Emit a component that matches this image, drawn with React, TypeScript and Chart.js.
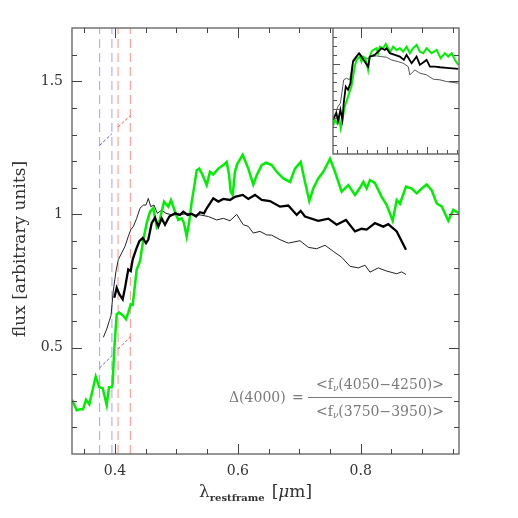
import React, { useEffect, useRef } from "react";
import { Chart, registerables } from "chart.js";
Chart.register(...registerables);

// ---------- axis ranges & ticks ----------
const X_MIN = 0.33, X_MAX = 0.96, Y_MIN = 0.1, Y_MAX = 1.7;
const xMajorTicks = [0.4, 0.6, 0.8];
const xTickLabels = ["0.4", "0.6", "0.8"];
const xMinorTicks = [0.35, 0.45, 0.5, 0.55, 0.65, 0.7, 0.75, 0.85, 0.9, 0.95];
const yMajorTicks = [0.5, 1, 1.5];
const yTickLabels = ["0.5", "1", "1.5"];
const yMinorTicks = [0.2, 0.3, 0.4, 0.6, 0.7, 0.8, 0.9, 1.1, 1.2, 1.3, 1.4, 1.6];

// ---------- main spectra ----------
const greenX = [0.330, 0.3377, 0.343, 0.348, 0.3528, 0.3582, 0.3686, 0.3744, 0.380, 0.3865, 0.3902, 0.3946, 0.396, 0.399, 0.4028, 0.407, 0.4135, 0.4179, 0.4216, 0.4256, 0.4288, 0.4353, 0.4407, 0.4461, 0.4516, 0.457, 0.4623, 0.4679, 0.4721, 0.476, 0.4798, 0.4868, 0.4912, 0.4977, 0.503, 0.5086, 0.5123, 0.5167, 0.5209, 0.5249, 0.5302, 0.533, 0.5372, 0.5428, 0.5493, 0.5546, 0.56, 0.5682, 0.5763, 0.5818, 0.5856, 0.5883, 0.5916, 0.5953, 0.5991, 0.6079, 0.617, 0.6251, 0.6307, 0.6388, 0.6458, 0.6551, 0.6632, 0.674, 0.6849, 0.693, 0.7023, 0.7093, 0.7163, 0.7228, 0.7309, 0.7391, 0.75, 0.7581, 0.769, 0.7798, 0.7907, 0.7988, 0.8042, 0.8097, 0.8151, 0.8232, 0.8341, 0.8423, 0.8521, 0.8586, 0.8639, 0.8737, 0.883, 0.8911, 0.8993, 0.9074, 0.9156, 0.9237, 0.9318, 0.9426, 0.9507, 0.9605];
const greenY = [0.304, 0.264, 0.268, 0.268, 0.304, 0.287, 0.391, 0.351, 0.347, 0.283, 0.351, 0.351, 0.36, 0.50, 0.625, 0.631, 0.619, 0.606, 0.631, 0.662, 0.66, 0.793, 0.824, 0.905, 0.967, 1.010, 1.023, 0.954, 0.973, 1.010, 1.048, 1.029, 1.054, 1.010, 0.979, 0.985, 0.967, 0.917, 0.973, 1.048, 1.122, 1.166, 1.172, 1.147, 1.110, 1.160, 1.150, 1.172, 1.185, 1.197, 1.15, 1.085, 1.073, 1.16, 1.19, 1.224, 1.172, 1.112, 1.147, 1.185, 1.194, 1.185, 1.160, 1.135, 1.122, 1.172, 1.197, 1.122, 1.050, 1.097, 1.135, 1.160, 1.209, 1.160, 1.085, 1.110, 1.073, 1.10, 1.122, 1.097, 1.129, 1.117, 1.066, 1.035, 0.976, 1.054, 1.04, 1.104, 1.097, 1.079, 1.097, 1.112, 1.09, 1.041, 1.03, 0.976, 1.017, 1.004];

const thickX = [0.3989, 0.4028, 0.407, 0.4125, 0.4163, 0.4216, 0.4256, 0.4288, 0.4342, 0.4396, 0.4451, 0.4505, 0.4542, 0.4597, 0.4651, 0.4705, 0.476, 0.4814, 0.4884, 0.4977, 0.5058, 0.5112, 0.5183, 0.5249, 0.5319, 0.5384, 0.5449, 0.5493, 0.56, 0.5682, 0.5763, 0.5872, 0.5953, 0.6079, 0.617, 0.6279, 0.6388, 0.6523, 0.6686, 0.6821, 0.6958, 0.7023, 0.7093, 0.7309, 0.7473, 0.7609, 0.776, 0.7907, 0.8016, 0.8097, 0.8232, 0.8367, 0.8449, 0.8586, 0.8667, 0.8737];
const thickY = [0.687, 0.724, 0.70, 0.681, 0.724, 0.793, 0.787, 0.830, 0.868, 0.899, 0.911, 0.892, 0.905, 0.967, 0.988, 0.954, 0.985, 0.961, 0.992, 1.004, 0.998, 1.010, 0.998, 1.002, 0.992, 1.008, 1.004, 1.023, 1.060, 1.048, 1.058, 1.054, 1.066, 1.073, 1.058, 1.073, 1.054, 1.050, 1.029, 1.033, 0.998, 1.013, 0.992, 0.976, 0.984, 0.961, 0.979, 0.936, 0.946, 0.943, 0.967, 0.954, 0.963, 0.936, 0.899, 0.867];

const thinX = [0.381, 0.3865, 0.3907, 0.3935, 0.3972, 0.4016, 0.4054, 0.4109, 0.4163, 0.4216, 0.4256, 0.4298, 0.4353, 0.4407, 0.4461, 0.4505, 0.4542, 0.4581, 0.4635, 0.4689, 0.476, 0.483, 0.4923, 0.5058, 0.5193, 0.5275, 0.5384, 0.5519, 0.5655, 0.5763, 0.5872, 0.5981, 0.6089, 0.617, 0.6251, 0.636, 0.6469, 0.6551, 0.6686, 0.6821, 0.7012, 0.7147, 0.7283, 0.7419, 0.7554, 0.769, 0.7825, 0.7961, 0.807, 0.8151, 0.8286, 0.8423, 0.8586, 0.8667, 0.8737];
const thinY = [0.538, 0.569, 0.600, 0.62, 0.712, 0.787, 0.830, 0.855, 0.880, 0.917, 0.942, 0.954, 0.985, 1.023, 1.035, 1.035, 1.060, 1.029, 1.035, 1.004, 1.016, 1.004, 0.998, 0.998, 1.004, 0.998, 0.998, 0.992, 0.979, 0.985, 0.976, 1.000, 0.961, 0.955, 0.930, 0.936, 0.923, 0.922, 0.905, 0.892, 0.901, 0.876, 0.871, 0.884, 0.861, 0.839, 0.805, 0.799, 0.809, 0.783, 0.799, 0.787, 0.777, 0.784, 0.774];

// ---------- D4000 bands and continuum fits ----------
const blueBand = [0.375, 0.395];
const redBand = [0.405, 0.425];
const blueFitUpperY = [1.259, 1.303];
const redFitUpperY = [1.328, 1.371];
const blueFitLowerY = [0.4235, 0.469];
const redFitLowerY = [0.494, 0.540];

// ---------- inset ----------
const INSET_X_MIN = 0.33, INSET_X_MAX = 0.96, INSET_Y_MIN = 0, INSET_Y_MAX = 1.4;
const insetXMajor = [0.4, 0.6, 0.8];
const insetXMinor = [0.35, 0.45, 0.5, 0.55, 0.65, 0.7, 0.75, 0.85, 0.9, 0.95];
const insetYMajor = [0.5, 1.0];
const insetYMinor = [0.1, 0.2, 0.3, 0.4, 0.6, 0.7, 0.8, 0.9, 1.1, 1.2, 1.3];

const insetGreenX = [0.330, 0.3385, 0.350, 0.360, 0.3686, 0.380, 0.3886, 0.400, 0.4137, 0.4222, 0.4302, 0.4388, 0.4473, 0.4553, 0.4638, 0.4723, 0.4804, 0.4924, 0.5054, 0.5139, 0.5225, 0.5305, 0.5475, 0.5555, 0.5641, 0.5806, 0.5941, 0.6057, 0.6177, 0.6307, 0.6478, 0.6643, 0.6808, 0.6979, 0.7144, 0.731, 0.748, 0.7645, 0.7811, 0.7981, 0.8232, 0.8482, 0.8683, 0.8898, 0.9064, 0.9234, 0.9399, 0.9565];
const insetGreenY = [0.306, 0.380, 0.344, 0.417, 0.288, 0.417, 0.528, 0.602, 0.694, 0.749, 0.860, 0.971, 1.045, 1.064, 1.082, 1.026, 1.082, 1.064, 0.934, 1.082, 1.137, 1.156, 1.175, 1.120, 1.193, 1.175, 1.223, 1.175, 1.137, 1.193, 1.156, 1.175, 1.137, 1.193, 1.120, 1.175, 1.212, 1.137, 1.120, 1.175, 1.120, 1.156, 1.064, 1.120, 1.082, 1.120, 1.045, 0.990];
const insetThickX = [0.330, 0.347, 0.355, 0.3671, 0.3771, 0.3836, 0.3937, 0.4052, 0.4172, 0.4302, 0.4473, 0.4603, 0.4723, 0.4889, 0.5054, 0.5139, 0.539, 0.5555, 0.5726, 0.5891, 0.5976, 0.6142, 0.6392, 0.6643, 0.6843, 0.6979, 0.7229, 0.748, 0.7645, 0.7981, 0.8147, 0.8397, 0.8648, 0.8984, 0.9565];
const insetThickY = [0.380, 0.454, 0.361, 0.491, 0.380, 0.565, 0.749, 0.713, 0.787, 1.026, 1.082, 1.120, 1.082, 1.026, 0.971, 1.082, 1.101, 1.137, 1.175, 1.156, 1.175, 1.120, 1.101, 1.082, 1.045, 1.101, 1.009, 1.082, 0.990, 1.045, 0.971, 0.971, 0.964, 0.957, 0.946];
const insetThinX = [0.330, 0.355, 0.3671, 0.3836, 0.3972, 0.4137, 0.4302, 0.4473, 0.4638, 0.4804, 0.5054, 0.5225, 0.5475, 0.5726, 0.5976, 0.6227, 0.6558, 0.6808, 0.7059, 0.7144, 0.7395, 0.7645, 0.7981, 0.8312, 0.8648, 0.8984, 0.9565];
const insetThinY = [0.380, 0.528, 0.565, 0.824, 0.842, 0.824, 1.045, 1.090, 1.120, 1.064, 1.064, 1.082, 1.090, 1.082, 1.075, 1.045, 1.026, 1.009, 0.971, 0.879, 0.934, 0.898, 0.879, 0.831, 0.824, 0.805, 0.787];

// ---------- text ----------
const yTitle = "flux [arbitrary units]";
const xTitleMain = "λ";
const xTitleSub = "restframe";
const xTitleUnit = "μ";
const d4000Label = "Δ(4000)";
const numeratorRange = "(4050−4250)>";
const denominatorRange = "(3750−3950)>";

const SERIF = '"DejaVu Serif", serif';

const pts = (xs: number[], ys: number[]) => xs.map((x, i) => ({ x, y: ys[i] }));

function lineDs(data: any[], color: string, width: number, dash: number[] = []) {
  return {
    data,
    borderColor: color,
    backgroundColor: color,
    borderWidth: width,
    borderDash: dash,
    pointRadius: 0,
    tension: 0,
    fill: false,
  };
}

const labelOf = (ticks: number[], labels: string[]) => (v: any) => {
  const i = ticks.findIndex((t) => Math.abs(t - Number(v)) < 1e-9);
  return i >= 0 ? labels[i] : "";
};

const framePlugin = {
  id: "frame",
  afterDraw(chart: any) {
    const ctx = chart.ctx as CanvasRenderingContext2D;
    const { left, right, top, bottom } = chart.chartArea;
    const xs = chart.scales.x;
    const ys = chart.scales.y;
    ctx.save();
    ctx.strokeStyle = "#6a6a6a";
    ctx.lineWidth = 1.4;
    ctx.strokeRect(left, top, right - left, bottom - top);
    ctx.strokeStyle = "#444";
    ctx.lineWidth = 1;
    const vt = (vals: number[], len: number) => {
      vals.forEach((v) => {
        const p = Math.round(xs.getPixelForValue(v)) + 0.5;
        ctx.beginPath();
        ctx.moveTo(p, bottom);
        ctx.lineTo(p, bottom - len);
        ctx.moveTo(p, top);
        ctx.lineTo(p, top + len);
        ctx.stroke();
      });
    };
    const ht = (vals: number[], len: number) => {
      vals.forEach((v) => {
        const p = Math.round(ys.getPixelForValue(v)) + 0.5;
        ctx.beginPath();
        ctx.moveTo(left, p);
        ctx.lineTo(left + len, p);
        ctx.moveTo(right, p);
        ctx.lineTo(right - len, p);
        ctx.stroke();
      });
    };
    vt(xMajorTicks, 10);
    vt(xMinorTicks, 5);
    ht(yMajorTicks, 10);
    ht(yMinorTicks, 5);

    // y title
    ctx.fillStyle = "#333";
    ctx.font = `17px ${SERIF}`;
    ctx.textAlign = "center";
    ctx.textBaseline = "middle";
    ctx.save();
    ctx.translate(21, 249);
    ctx.rotate(-Math.PI / 2);
    ctx.fillText(yTitle, 0, 0);
    ctx.restore();

    // x title
    ctx.textAlign = "left";
    ctx.textBaseline = "alphabetic";
    let x = 199;
    const base = 497;
    ctx.font = `17px ${SERIF}`;
    ctx.fillText(xTitleMain, x, base);
    x += ctx.measureText(xTitleMain).width;
    ctx.font = `bold 10px ${SERIF}`;
    ctx.fillText(xTitleSub, x, base + 4);
    x += ctx.measureText(xTitleSub).width + 7;
    ctx.font = `17px ${SERIF}`;
    ctx.fillText("[", x, base);
    x += ctx.measureText("[").width;
    ctx.font = `italic 17px ${SERIF}`;
    ctx.fillText(xTitleUnit, x, base);
    x += ctx.measureText(xTitleUnit).width;
    ctx.font = `17px ${SERIF}`;
    ctx.fillText("m]", x, base);

    // D4000 annotation
    ctx.fillStyle = "#7a7a7a";
    ctx.strokeStyle = "#7a7a7a";
    ctx.font = `14px ${SERIF}`;
    ctx.textBaseline = "middle";
    ctx.textAlign = "left";
    ctx.fillText(d4000Label, 229, 398);
    ctx.fillText("=", 292, 398);
    ctx.beginPath();
    ctx.lineWidth = 1;
    ctx.moveTo(308, 397.5);
    ctx.lineTo(452, 397.5);
    ctx.stroke();
    const frac = (rng: string, cy: number) => {
      ctx.font = `14px ${SERIF}`;
      const w1 = ctx.measureText("<f").width;
      ctx.font = `italic 9px ${SERIF}`;
      const w2 = ctx.measureText("ν").width;
      ctx.font = `14px ${SERIF}`;
      const w3 = ctx.measureText(rng).width;
      const total = w1 + w2 + w3;
      let cx = 380 - total / 2;
      ctx.fillText("<f", cx, cy);
      cx += w1;
      ctx.font = `italic 9px ${SERIF}`;
      ctx.fillText("ν", cx, cy + 4);
      cx += w2;
      ctx.font = `14px ${SERIF}`;
      ctx.fillText(rng, cx, cy);
    };
    frac(numeratorRange, 385);
    frac(denominatorRange, 412);
    ctx.restore();
  },
};

const insetFramePlugin = {
  id: "insetFrame",
  afterDraw(chart: any) {
    const ctx = chart.ctx as CanvasRenderingContext2D;
    const { left, right, top, bottom } = chart.chartArea;
    const xs = chart.scales.x;
    const ys = chart.scales.y;
    ctx.save();
    ctx.strokeStyle = "#6a6a6a";
    ctx.lineWidth = 1.4;
    ctx.beginPath();
    ctx.moveTo(left, top);
    ctx.lineTo(left, bottom);
    ctx.lineTo(right, bottom);
    ctx.stroke();
    ctx.strokeStyle = "#555";
    ctx.lineWidth = 1;
    const vt = (vals: number[], len: number) =>
      vals.forEach((v) => {
        const p = Math.round(xs.getPixelForValue(v)) + 0.5;
        ctx.beginPath();
        ctx.moveTo(p, bottom);
        ctx.lineTo(p, bottom - len);
        ctx.stroke();
      });
    const ht = (vals: number[], len: number) =>
      vals.forEach((v) => {
        const p = Math.round(ys.getPixelForValue(v)) + 0.5;
        ctx.beginPath();
        ctx.moveTo(left, p);
        ctx.lineTo(left + len, p);
        ctx.stroke();
      });
    vt(insetXMajor, 7);
    vt(insetXMinor, 4);
    ht(insetYMajor, 7);
    ht(insetYMinor, 4);
    ctx.restore();
  },
};

export default function App() {
  const mainRef = useRef<HTMLCanvasElement | null>(null);
  const insetRef = useRef<HTMLCanvasElement | null>(null);

  useEffect(() => {
    const vLine = (x: number) => [
      { x, y: Y_MIN },
      { x, y: Y_MAX },
    ];
    const main = new Chart(mainRef.current as HTMLCanvasElement, {
      type: "line",
      data: {
        datasets: [
          lineDs(pts(thickX, thickY), "#000000", 2.3),
          lineDs(pts(greenX, greenY), "#00ee00", 2.5),
          lineDs(pts(thinX, thinY), "#222222", 1),
          lineDs(pts(blueBand, blueFitUpperY), "#5555ee", 1, [3, 2]),
          lineDs(pts(redBand, redFitUpperY), "#ee5555", 1, [3, 2]),
          lineDs(pts(blueBand, blueFitLowerY), "#5555ee", 1, [3, 2]),
          lineDs(pts(redBand, redFitLowerY), "#ee5555", 1, [3, 2]),
          lineDs(vLine(blueBand[0]), "#a0a0ff", 1, [9, 5]),
          lineDs(vLine(blueBand[1]), "#a0a0ff", 1, [9, 5]),
          lineDs(vLine(redBand[0]), "#ff9090", 1, [9, 5]),
          lineDs(vLine(redBand[1]), "#ff9090", 1, [9, 5]),
        ] as any,
      },
      options: {
        animation: false,
        responsive: false,
        maintainAspectRatio: false,
        devicePixelRatio: 1,
        events: [],
        layout: { padding: { top: 28, right: 59, bottom: 0, left: 0 } },
        plugins: { legend: { display: false }, tooltip: { enabled: false } },
        scales: {
          x: {
            type: "linear",
            min: X_MIN,
            max: X_MAX,
            grid: { display: false, drawTicks: false },
            border: { display: false },
            afterBuildTicks: (s: any) => {
              s.ticks = xMajorTicks.map((v) => ({ value: v }));
            },
            afterFit: (s: any) => {
              s.height = 64;
            },
            ticks: {
              padding: 9,
              maxRotation: 0,
              autoSkip: false,
              color: "#333",
              font: { family: SERIF, size: 14 },
              callback: labelOf(xMajorTicks, xTickLabels),
            },
          },
          y: {
            type: "linear",
            min: Y_MIN,
            max: Y_MAX,
            grid: { display: false, drawTicks: false },
            border: { display: false },
            afterBuildTicks: (s: any) => {
              s.ticks = yMajorTicks.map((v) => ({ value: v }));
            },
            afterFit: (s: any) => {
              s.width = 72;
            },
            ticks: {
              padding: 9,
              autoSkip: false,
              color: "#333",
              font: { family: SERIF, size: 14 },
              callback: labelOf(yMajorTicks, yTickLabels),
            },
          },
        },
      } as any,
      plugins: [framePlugin],
    });

    const inset = new Chart(insetRef.current as HTMLCanvasElement, {
      type: "line",
      data: {
        datasets: [
          lineDs(pts(insetThickX, insetThickY), "#000000", 1.8),
          lineDs(pts(insetGreenX, insetGreenY), "#00ee00", 2),
          lineDs(pts(insetThinX, insetThinY), "#555555", 1),
        ] as any,
      },
      options: {
        animation: false,
        responsive: false,
        maintainAspectRatio: false,
        devicePixelRatio: 1,
        events: [],
        layout: { padding: { top: 0, right: 1, bottom: 2, left: 2 } },
        plugins: { legend: { display: false }, tooltip: { enabled: false } },
        scales: {
          x: { type: "linear", min: INSET_X_MIN, max: INSET_X_MAX, display: false },
          y: { type: "linear", min: INSET_Y_MIN, max: INSET_Y_MAX, display: false },
        },
      } as any,
      plugins: [insetFramePlugin],
    });

    return () => {
      main.destroy();
      inset.destroy();
    };
  }, []);

  return (
    <div style={{ position: "fixed", left: 0, top: 0, width: 518, height: 518, background: "#fff" }}>
      <canvas
        ref={insetRef}
        width={129}
        height={128}
        style={{ position: "absolute", left: 331, top: 28, width: 129, height: 128, zIndex: 0 }}
      />
      <canvas
        ref={mainRef}
        width={518}
        height={518}
        style={{ position: "absolute", left: 0, top: 0, width: 518, height: 518, zIndex: 1 }}
      />
    </div>
  );
}
